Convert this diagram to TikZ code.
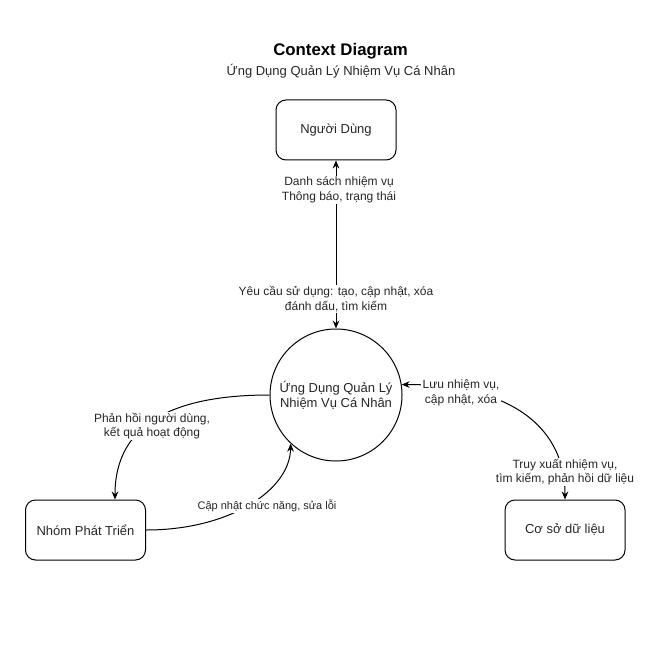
\documentclass[tikz,border=0pt]{standalone}
\usepackage{fontspec}
\setmainfont{Liberation Sans}
\usetikzlibrary{arrows.meta}
\begin{document}
\begin{tikzpicture}[x=0.75pt,y=-0.75pt,
  every node/.style={font=\fontsize{9.75}{11.4}\selectfont, text=black!85},
  entity/.style={draw, line width=0.75pt, rounded corners=7.5pt, minimum width=90pt, minimum height=45pt, inner sep=0pt},
  process/.style={draw, circle, line width=0.75pt, minimum size=99pt, inner sep=0pt, align=center},
  flow/.style={line width=0.75pt, -{Stealth[length=6pt,width=5pt,inset=2pt]}},
  flowboth/.style={line width=0.75pt, {Stealth[length=6pt,width=5pt,inset=2pt]}-{Stealth[length=6pt,width=5pt,inset=2pt]}},
  lbl/.style={fill=white, align=center, inner sep=1pt, font=\fontsize{9}{10.8}\selectfont},
  smalllbl/.style={lbl, font=\fontsize{8.25}{10}\selectfont}
]
\useasboundingbox (0,0) rectangle (670,670);

\node[font=\fontsize{12.6}{14}\selectfont\bfseries, text=black] (title) at (340.5,51) {Context Diagram};
\node (subtitle) at (341,71) {Ứng Dụng Quản Lý Nhiệm Vụ Cá Nhân};

\node[entity] (user) at (336,130) {Người Dùng};
\node[process] (app) at (336,395) {Ứng Dụng Quản Lý\\Nhiệm Vụ Cá Nhân};
\node[entity] (dev) at (85.5,530) {Nhóm Phát Triển};
\node[entity] (db) at (565,530) {Cơ sở dữ liệu};

\draw[flowboth] (user.south) -- (app.north);
\draw[flow] (app.west) .. controls (180,395) and (115,420) .. (dev.north -| 115,0);
\draw[flow] (dev.east) .. controls (230,530) and (290,490) .. (app.227);
\draw[flowboth] (app.9.5) .. controls (500,384) and (565,420) .. (db.north);

\node[lbl] (l1) at (339,190) {Danh sách nhiệm vụ\\Thông báo, trạng thái};
\node[lbl] (l2) at (336,299) {Yêu cầu sử dụng: tạo, cập nhật, xóa\\đánh dấu, tìm kiếm};
\node[lbl] (l3) at (152,426) {Phản hồi người dùng,\\kết quả hoạt động};
\node[smalllbl] (l4) at (267,506) {Cập nhật chức năng, sửa lỗi};
\node[lbl] (l5) at (461,393) {Lưu nhiệm vụ,\\cập nhật, xóa};
\node[lbl] (l6) at (565,472) {Truy xuất nhiệm vụ,\\tìm kiếm, phản hồi dữ liệu};
\end{tikzpicture}
\end{document}
